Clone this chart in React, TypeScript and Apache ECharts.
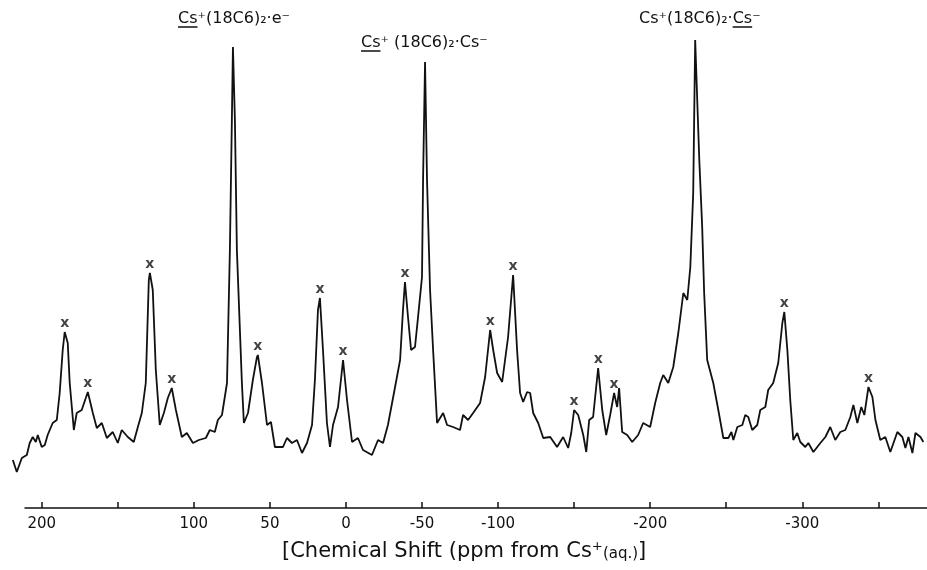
import React, { useEffect, useRef } from "react";
import * as echarts from "echarts";

// Chemical shift (ppm) of traced points along the spectrum, high to low
const shiftPpm = [
  219.0, 216.4, 213.1, 209.8, 207.9, 205.9, 203.9, 202.6, 200.0, 198.0,
  196.1, 192.8, 190.1, 188.2, 186.2, 184.9, 182.9, 181.6, 178.9, 177.0,
  173.7, 169.7, 166.4, 163.8, 160.5, 157.2, 153.3, 150.0, 147.4, 143.4,
  139.5, 136.8, 134.2, 131.6, 129.6, 128.9, 127.0, 125.0, 122.4, 119.7,
  117.1, 114.5, 111.8, 107.9, 104.6, 100.6, 96.7, 92.1, 89.5, 86.2,
  84.2, 81.5, 78.2, 76.3, 75.0, 74.3, 73.0, 71.7, 68.4, 67.1,
  64.4, 61.2, 58.5, 57.9, 55.2, 51.9, 49.3, 46.7, 41.4, 38.8,
  35.5, 32.2, 28.9, 25.6, 22.3, 20.4, 18.4, 17.1, 15.1, 12.5,
  10.5, 8.5, 5.2, 1.9, -0.7, -4.0, -7.9, -11.2, -17.1, -21.1,
  -24.4, -27.6, -32.3, -35.6, -37.5, -38.8, -40.8, -42.8, -45.4, -47.4,
  -50.0, -50.7, -52.0, -53.3, -55.3, -57.3, -59.9,
  -63.9, -66.5, -70.4, -75.0, -77.0, -80.3, -83.6, -88.2, -91.5, -94.8,
  -96.8, -99.4, -102.7, -104.6, -106.6, -109.9, -112.5, -114.5, -116.5, -119.1,
  -121.1, -123.1, -126.4, -129.7, -134.3, -138.8, -142.8, -146.1, -148.1, -150.0,
  -152.7, -156.0, -158.0, -159.9, -162.5, -165.8, -168.5, -171.1, -173.7, -176.3,
  -178.3, -179.6, -181.6, -184.9, -188.2, -192.1, -195.4, -200.0, -203.3, -206.6,
  -208.6, -211.9, -215.2, -218.5, -221.8, -224.4, -226.4, -228.3, -229.6, -232.3,
  -234.2, -235.5, -237.5, -241.5, -244.8, -248.1, -251.4, -253.4, -254.7, -257.3,
  -260.6, -262.5, -264.5, -267.1, -270.4, -272.4, -275.7, -277.6, -280.9, -284.2,
  -286.9, -288.2, -290.2, -292.1, -294.1, -296.7, -298.7, -302.0, -304.0, -307.3,
  -311.9, -315.2, -318.4, -321.7, -325.0, -328.3, -331.6, -333.6, -336.2, -338.8,
  -340.8, -343.5, -346.1, -348.1, -351.3, -354.6, -357.9, -362.5, -365.8, -367.8,
  -369.8, -372.4, -374.4, -377.7, -379.6,
];

// Signal intensity (arbitrary units) at each traced point
const intensity = [
  48, 36, 50, 53, 65, 71, 66, 73, 61, 63,
  73, 85, 88, 115, 158, 176, 165, 125, 78, 95,
  98, 116, 95, 80, 85, 70, 76, 65, 78, 71,
  66, 81, 95, 125, 228, 235, 218, 138, 83, 95,
  110, 120, 98, 71, 75, 65, 68, 70, 78, 76,
  88, 93, 125, 258, 388, 461, 388, 258, 125, 85,
  95, 128, 151, 153, 125, 83, 86, 61, 61, 70,
  65, 68, 55, 65, 83, 128, 198, 210, 158, 85,
  61, 83, 101, 148, 108, 66, 70, 58, 53, 68,
  65, 83, 121, 148, 198, 226, 191, 158, 161, 191,
  231, 328, 446, 328, 218, 158, 85,
  95, 83, 81, 78, 93, 88, 95, 105, 131, 178,
  158, 135, 126, 148, 171, 233, 158, 115, 106, 116,
  115, 95, 85, 70, 71, 61, 71, 60, 75, 98,
  93, 73, 56, 88, 91, 140, 98, 73, 93, 115,
  101, 120, 76, 73, 66, 73, 85, 81, 105, 125,
  133, 125, 141, 175, 215, 208, 241, 315, 468, 348,
  281, 215, 148, 125, 98, 70, 70, 76, 68, 81,
  83, 93, 91, 78, 83, 98, 101, 118, 125, 145,
  185, 196, 158, 108, 68, 75, 66, 61, 65, 56,
  65, 71, 81, 68, 76, 78, 91, 103, 85, 101,
  93, 121, 111, 88, 68, 71, 56, 76, 71, 60,
  71, 55, 75, 71, 66,
];

// Peaks marked with "x"
const markedPeakPpm = [184.9, 169.7, 128.9, 114.5, 57.9, 17.1, 1.9, -38.8, -94.8, -109.9, -150.0, -165.8, -176.3, -288.2, -343.5];
const markedPeakIntensity = [176, 116, 235, 120, 153, 210, 148, 226, 178, 233, 98, 140, 115, 196, 121];

const tickValues = [200, 150, 100, 50, 0, -50, -100, -150, -200, -250, -300, -350];
const labelValues = [200, 100, 50, 0, -50, -100, -200, -300];

const peakLabels = ["Cs⁺(18C6)₂·e⁻", "Cs⁺ (18C6)₂·Cs⁻", "Cs⁺(18C6)₂·Cs⁻"];
const underlinedPart = "Cs";
const axisTitleMain = "[Chemical Shift (ppm from Cs⁺";
const axisTitleRef = "(aq.)";
const axisTitleEnd = "]";

export default function App() {
  const ref = useRef<HTMLDivElement>(null);
  useEffect(() => {
    if (!ref.current) return;
    const chart = echarts.init(ref.current, null, { renderer: "svg" });
    const spectrum = shiftPpm.map((p, i) => [p, intensity[i]]);
    const marks = markedPeakPpm.map((p, i) => [p, markedPeakIntensity[i]]);
    const plotLeft = 12;
    const axisLeft = 25;
    const axisMin = -382;
    const axisMax = 211;
    const pxPerPpm = (927 - axisLeft) / (axisMax - axisMin);
    const traceMax = axisMax + (axisLeft - plotLeft) / pxPerPpm;
    const ink = "#111";
    const fontName = '"DejaVu Sans", sans-serif';
    const labelSize = 16;

    const ctx = document.createElement("canvas").getContext("2d");
    const measure = (t: string, size: number) => {
      if (!ctx) return t.length * size * 0.6;
      ctx.font = `${size}px ${fontName}`;
      return ctx.measureText(t).width;
    };
    const csW = measure(underlinedPart, labelSize);

    const l1x = 178, l1y = 17;
    const l2x = 361, l2y = 41;
    const l3x = 639, l3y = 17;
    const l3Offset = measure("Cs⁺(18C6)₂·", labelSize);

    const underline = (x: number, y: number) => ({
      type: "line",
      shape: { x1: x, y1: y, x2: x + csW, y2: y },
      style: { stroke: ink, lineWidth: 1.5 },
    });
    const label = (text: string, x: number, y: number) => ({
      type: "text",
      x,
      y,
      style: { text, font: `${labelSize}px ${fontName}`, fill: ink, align: "left", verticalAlign: "middle" },
    });

    chart.setOption({
      animation: false,
      grid: [
        { left: plotLeft, right: 0, top: 8, bottom: 62 },
        { left: axisLeft, right: 0, top: 8, bottom: 62 },
      ],
      xAxis: [
        { type: "value", gridIndex: 0, min: axisMin, max: traceMax, inverse: true, show: false },
        {
          type: "value",
          gridIndex: 1,
          min: axisMin,
          max: axisMax,
          inverse: true,
          axisLine: { show: true, onZero: false, lineStyle: { color: ink, width: 1.5 } },
          axisTick: { show: true, inside: true, length: 6, customValues: tickValues, lineStyle: { color: ink, width: 1.5 } },
          axisLabel: {
            show: true,
            customValues: labelValues,
            margin: 7,
            color: ink,
            fontSize: 15,
            fontFamily: fontName,
            formatter: (v: number) => String(v),
          },
          splitLine: { show: false },
        },
      ],
      yAxis: [
        { type: "value", gridIndex: 0, min: 0, max: 500, show: false },
        { type: "value", gridIndex: 1, min: 0, max: 500, show: false },
      ],
      series: [
        {
          type: "line",
          xAxisIndex: 0,
          yAxisIndex: 0,
          data: spectrum,
          symbol: "none",
          showSymbol: false,
          silent: true,
          lineStyle: { color: ink, width: 1.8 },
        },
        {
          type: "scatter",
          xAxisIndex: 0,
          yAxisIndex: 0,
          data: marks,
          symbolSize: 1,
          silent: true,
          itemStyle: { color: "rgba(0,0,0,0)" },
          label: {
            show: true,
            position: "top",
            distance: 3,
            formatter: "x",
            color: ink,
            fontSize: 14,
            fontWeight: "bold",
            fontFamily: fontName,
          },
        },
      ],
      graphic: [
        label(peakLabels[0], l1x, l1y),
        underline(l1x, l1y + 10),
        label(peakLabels[1], l2x, l2y),
        underline(l2x, l2y + 10),
        label(peakLabels[2], l3x, l3y),
        underline(l3x + l3Offset, l3y + 10),
        {
          type: "text",
          x: 282,
          y: 550,
          style: {
            text: `{a|${axisTitleMain}}{b|${axisTitleRef}}{a|${axisTitleEnd}}`,
            fill: ink,
            align: "left",
            verticalAlign: "middle",
            rich: {
              a: { fontSize: 21, fontFamily: fontName, color: ink },
              b: { fontSize: 15, fontFamily: fontName, color: ink, padding: [5, 0, 0, 0] },
            },
          },
        },
      ],
    });
    return () => chart.dispose();
  }, []);
  return <div ref={ref} style={{ position: "fixed", left: 0, top: 0, width: 927, height: 570 }} />;
}
